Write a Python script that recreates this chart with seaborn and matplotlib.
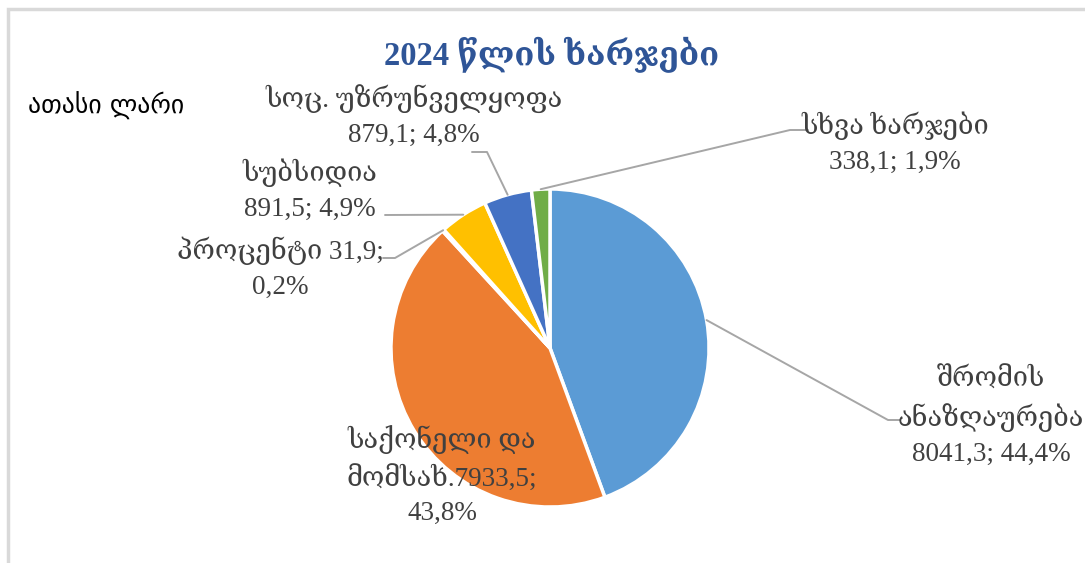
import numpy as np
import matplotlib
matplotlib.use("Agg")
import matplotlib.pyplot as plt
import seaborn as sns

# data (thousand GEL)
names = ["შრომის\nანაზღაურება", "საქონელი და\nმომსახ.", "პროცენტი", "სუბსიდია",
         "სოც. უზრუნველყოფა", "სხვა ხარჯები"]
values = [8041.3, 7933.5, 31.9, 891.5, 879.1, 338.1]
shares = [44.4, 43.8, 0.2, 4.9, 4.8, 1.9]
colors = ["#5B9BD5", "#ED7D31", "#A5A5A5", "#FFC000", "#4472C4", "#70AD47"]

sns.set_theme(style="white")
plt.rcParams['font.family'] = ['Liberation Serif', 'DejaVu Serif']

W, H = 1085, 563
fig = plt.figure(figsize=(W / 100, H / 100), dpi=100)
ax = fig.add_axes([0, 0, 1, 1])

cx, cy, r = 550, H - 348, 159
wedges, _ = ax.pie(values, colors=colors, startangle=90, counterclock=False,
                   explode=[0.035] * len(values), center=(cx, cy), radius=r,
                   wedgeprops=dict(edgecolor="white", linewidth=2.5))
ax.set_xlim(0, W)
ax.set_ylim(0, H)
ax.set_aspect("equal")
ax.axis("off")

# chart frame
ax.plot([8, 8, W + 5], [-5, H - 9, H - 9], color="#D9D9D9", lw=2.5,
        solid_joinstyle="miter")


def fmt(v):
    return f"{v:.1f}".replace(".", ",")


label_text = [
    f"{names[0]}\n{fmt(values[0])}; {fmt(shares[0])}%",
    f"{names[1]}{fmt(values[1])};\n{fmt(shares[1])}%",
    f"{names[2]} {fmt(values[2])};\n{fmt(shares[2])}%",
    f"{names[3]}\n{fmt(values[3])}; {fmt(shares[3])}%",
    f"{names[4]}\n{fmt(values[4])}; {fmt(shares[4])}%",
    f"{names[5]}\n{fmt(values[5])}; {fmt(shares[5])}%",
]
# label centres (pixels from top) and leader line elbows / ends
label_pos = [(991, 417), (442, 476), (280, 268), (310, 190), (414, 116), (895, 143)]
elbows = [(888, 420), None, (395, 258), (385, 215), (487, 152), (790, 130)]
ends = [(900, 420), None, (383, 258), None, (472, 152), (808, 130)]

for i, w in enumerate(wedges):
    tx, ty = label_pos[i]
    ax.text(tx, H - ty, label_text[i], ha="center", va="center", fontsize=19.5,
            color="#404040", linespacing=1.5)
    if elbows[i] is None:
        continue
    ang = np.deg2rad((w.theta1 + w.theta2) / 2)
    wx, wy = w.center
    px, py = wx + w.r * np.cos(ang), wy + w.r * np.sin(ang)
    xs = [px, elbows[i][0]]
    ys = [py, H - elbows[i][1]]
    if ends[i] is not None:
        xs.append(ends[i][0])
        ys.append(H - ends[i][1])
    ax.plot(xs, ys, color="#A6A6A6", lw=1.4)

ax.text(552, H - 55, "2024 წლის ხარჯები", ha="center", va="center", fontsize=23.5,
        fontweight="bold", color="#2F5597")
ax.text(28, H - 106, "ათასი ლარი", ha="left", va="center", fontsize=18.5,
        color="black", family=["DejaVu Sans"])

fig.savefig("out.png", dpi=100)
